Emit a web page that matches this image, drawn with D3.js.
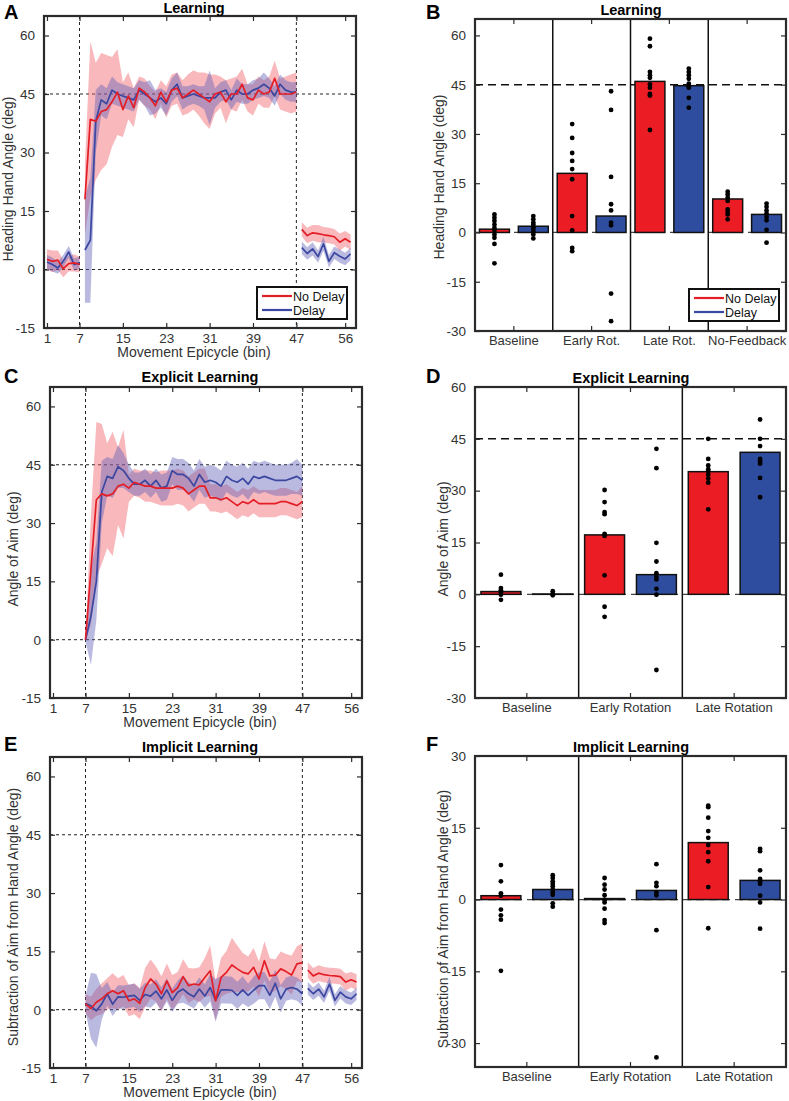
<!DOCTYPE html>
<html>
<head>
<meta charset="utf-8">
<script src="https://cdn.jsdelivr.net/npm/d3@7.9.0/dist/d3.min.js"></script>
<style>
  body { margin: 0; background: #fff; }
  svg { display: block; font-family: "Liberation Sans", Arial, Helvetica, sans-serif; }
</style>
</head>
<body>
<svg id="fig" width="789" height="1101"></svg>
<script>
// ---- bins (x categories) ----
const binsBase = [1, 2, 3, 4, 5, 6, 7];
const binsRot = [8, 9, 10, 11, 12, 13, 14, 15, 16, 17, 18, 19, 20, 21, 22, 23, 24, 25, 26, 27,
  28, 29, 30, 31, 32, 33, 34, 35, 36, 37, 38, 39, 40, 41, 42, 43, 44, 45, 46, 47];
const binsRotAim = [7, 8, 9, 10, 11, 12, 13, 14, 15, 16, 17, 18, 19, 20, 21, 22, 23, 24, 25, 26, 27,
  28, 29, 30, 31, 32, 33, 34, 35, 36, 37, 38, 39, 40, 41, 42, 43, 44, 45, 46, 47];
const binsNoFb = [48, 49, 50, 51, 52, 53, 54, 55, 56, 57];
const lineXTicks = [1, 7, 15, 23, 31, 39, 47, 56];
const lineYTicks = [-15, 0, 15, 30, 45, 60];

// ---- A: heading hand angle (mean, SE) ----
const handBaseND = [2.6, 2.1, 2.4, 0.2, 1.5, 1.7, 1.3];
const handBaseNDse = [2.6, 2.8, 2.5, 2.2, 2, 2.2, 2];
const handBaseD = [1.9, 1.3, 0.4, 2.1, 4.5, 1.3, 1.7];
const handBaseDse = [1.8, 1.8, 1.5, 1.6, 1.5, 1.6, 1.5];
const handRotND = [18, 38.5, 38, 40.5, 41, 43, 45.5, 41, 44.5, 41.5, 46.5, 45.5, 44, 42, 45.5, 43, 46, 46.5, 44, 45,
  46, 45, 44, 43, 45, 45.5, 43, 45, 45, 47.5, 44, 43.5, 46, 45, 45.5, 49, 45, 45, 45, 45.5];
const handRotNDse = [9, 20, 15, 15, 14, 11.5, 11, 7, 6, 5, 3, 3.5, 3, 3.5, 3, 4, 4, 4, 4.5, 5,
  5, 5.5, 6.5, 7, 5, 4, 5.5, 4, 4.5, 4, 3.5, 4, 3.5, 3.5, 4, 4.5, 4, 4.5, 5, 5];
const handRotD = [5, 7.5, 38, 43.5, 42.5, 46, 45, 44.5, 44, 43.5, 46, 45, 44, 43, 44, 42.5, 46, 47.5, 44, 44.5,
  45, 44.5, 44, 44, 44, 45.5, 46, 43.5, 46, 45, 45, 46, 46.5, 47.5, 46.5, 44.5, 47.5, 46, 45.5, 45.5];
const handRotDse = [13.5, 16, 8, 4, 4, 3.5, 3, 3, 3, 3, 2.5, 3, 4.5, 3, 2.5, 3, 3, 3, 3, 2.5,
  2.5, 2.5, 3, 7, 2.5, 2.5, 2.5, 2.5, 3, 2.5, 2.5, 2.5, 2.5, 3, 2.5, 2.5, 2.5, 2.5, 2.5, 2.5];
const handNfND = [10.3, 8.7, 9.4, 9.2, 8.9, 8.7, 8.4, 7, 7.9, 7];
const handNfNDse = [1.8, 2, 2, 2.2, 2, 2, 2, 2.2, 2, 2];
const handNfD = [5.6, 4.1, 5.3, 3.3, 6.6, 2.1, 4.3, 3.4, 2.7, 4];
const handNfDse = [1.6, 1.6, 1.7, 1.6, 1.8, 1.6, 1.6, 1.7, 1.6, 1.6];

// ---- C: angle of aim ----
const aimRotND = [0, 18, 36, 37.5, 37, 37.5, 39.5, 40, 39, 40.5, 40, 39.5, 39.5, 39, 39, 39, 39, 39.5, 39, 37.5,
  38.5, 39.5, 39.5, 36.5, 36.5, 36, 36.5, 35.5, 34.5, 35.5, 35, 36, 35, 35, 35, 35, 35.5, 35.5, 35, 34.5, 35.5];
const aimRotNDse = [0.5, 14, 20, 18, 13.5, 16, 10, 14, 3.5, 3.5, 3.5, 4, 4, 4, 4.5, 4.5, 4.5, 4.5, 4.5, 4.5,
  4.5, 4.5, 4.5, 3.5, 3.5, 3.5, 3.5, 3.5, 3.5, 3.5, 3.5, 3.5, 3.5, 3.5, 3.5, 3.5, 3.5, 3.5, 3.5, 3.5, 4];
const aimRotD = [0, 6, 15, 38, 42, 41.5, 44.5, 43.5, 41.5, 40, 40, 41, 39.5, 41, 39, 39.5, 43.5, 42.5, 42.5, 41.5,
  39.5, 42.5, 40.5, 41, 40.5, 39.5, 42, 41, 40.5, 41.5, 40, 42, 41.5, 42, 41.5, 41, 41, 41, 41.5, 42, 41];
const aimRotDse = [0.5, 12.5, 10, 8, 5, 5, 5.5, 4.5, 3.5, 3, 3, 3, 3, 3, 3.5, 3.5, 3.5, 4, 4, 4,
  4, 4, 4, 4, 4, 4, 4, 4, 4, 4, 4, 4, 4, 4, 4, 4, 4, 4, 4, 4.5, 4];

// ---- E: implicit (hand minus aim) ----
const implRotND = [1.5, 0.3, 1.9, 2.8, 4.1, 4.9, 4.1, 4.9, 2.3, 2.8, 1.6, 5.7, 7.9, 6.6, 4.1, 7.4, 4.4, 5.7, 8.5, 6.2,
  6.6, 6.4, 8.3, 10, 2.3, 8.3, 9.6, 11.5, 10.5, 9.6, 9.2, 10.9, 7.9, 12.6, 8.7, 8.9, 10.5, 9.8, 8.9, 11.8, 12.1];
const implRotNDse = [2.5, 3, 3.5, 4, 4, 4.5, 4, 4, 4, 4, 4, 5, 5, 4.5, 4.5, 4.5, 4.5, 4, 4.5, 4.5,
  4, 4.5, 5, 6.5, 5, 5, 5.5, 7, 6, 5, 4.5, 5, 4.5, 5, 4.5, 4, 4.5, 4.5, 5, 4.5, 5];
const implRotD = [1.6, 1, -0.3, 1.5, 4.1, 1.4, 3.3, 3.2, 3.5, 3.7, 2.4, 3.9, 3.5, 4.8, 2.8, 5.1, 2.4, 4.5, 5.3, 4.1,
  3.3, 5.3, 3.5, 5.7, 2.4, 5.1, 5.1, 5, 3.7, 5.1, 3.7, 5, 6.2, 6.2, 3.7, 6.8, 2.8, 5.3, 5.7, 5.3, 4.1];
const implRotDse = [2, 8.5, 9.5, 4, 3, 3, 3, 3, 3, 3, 3, 3, 3, 3, 3, 3, 3, 3, 3.5, 3,
  3, 3, 3, 3.5, 5.5, 3.5, 3.5, 3.5, 3.5, 3.5, 3, 3.5, 3.5, 3.5, 3.5, 3.5, 3.5, 3, 3, 3, 3];
const implNfND = [10.2, 8.7, 9.4, 9, 8.8, 8.7, 8.5, 7.1, 7.7, 7.1];
const implNfNDse = [2, 2, 2, 2, 2, 2, 2, 2.2, 2, 2];
const implNfD = [5.5, 4.1, 5.3, 3.3, 6.6, 2.4, 4.5, 3.3, 2.8, 4.1];
const implNfDse = [1.6, 1.6, 1.7, 1.6, 1.8, 1.6, 1.6, 1.7, 1.6, 1.6];

// ---- B: learning bars ----
const learnGroups = ['Baseline', 'Early Rot.', 'Late Rot.', 'No-Feedback'];
const learnBarND = [1.0, 18, 46, 10.2];
const learnBarD = [1.9, 5, 44.7, 5.5];
const learnPtsND = [
  [5.5, 4.5, 3.5, 2.4, 1.4, 0.6, -0.6, -1.6, -3.5, -9.4],
  [33, 28.8, 24.2, 21.8, 19.3, 16.2, 5, 0.6, -4.7, -5.7],
  [59, 56.7, 48.9, 47.9, 47.1, 45.1, 44.1, 42.2, 41.7, 31.2],
  [12.4, 11.6, 10.6, 9.6, 7, 6.3, 5.5, 4]
];
const learnPtsD = [
  [5, 4, 3, 2.4, 1.6, 0.9, 0.2, -0.6, -1.8],
  [43, 37.3, 16.9, 8.6, 6.7, 3, 2.2, -18.6, -27],
  [49.9, 48.9, 47.9, 46.8, 45.3, 44.5, 44.1, 41, 38],
  [8.8, 7.8, 6.7, 5.7, 4.7, 3.7, 0.8, -3.1]
];
const learnYTicks = [-30, -15, 0, 15, 30, 45, 60];

// ---- D: explicit bars ----
const aimGroups = ['Baseline', 'Early Rotation', 'Late Rotation'];
const aimBarND = [0.8, 17.2, 35.5];
const aimBarD = [0.1, 5.7, 41.1];
const aimPtsND = [
  [5.7, 1.8, 1.2, 0.5, -0.1, -1.6],
  [30.2, 26.7, 23.8, 23.2, 17.5, 16.9, 5.5, -3.6, -6.5],
  [45, 39.2, 37.3, 36.2, 35.6, 34.6, 33.5, 32.3, 24.6]
];
const aimPtsD = [
  [0.9, 0.2, -0.3],
  [42.1, 36.5, 14.9, 9.5, 6.1, 5.1, 4.3, 1.6, -0.1, -21.9],
  [50.6, 45, 42.9, 39.2, 38.5, 37.8, 33.7, 28.1]
];
const aimYTicks = [-30, -15, 0, 15, 30, 45, 60];

// ---- F: implicit bars ----
const implGroups = ['Baseline', 'Early Rotation', 'Late Rotation'];
const implBarND = [0.8, 0.2, 11.9];
const implBarD = [2.1, 1.9, 4];
const implPtsND = [
  [7.2, 3.8, 1.3, 0.8, -2.1, -3.3, -4.2, -14.9],
  [4.5, 3.1, 2.1, 0.9, -0.1, -0.6, -1.9, -4.3, -4.9],
  [19.6, 19.3, 17.1, 14.3, 12.9, 11.4, 9.9, 8, 2.6, -6]
];
const implPtsD = [
  [5.1, 4.5, 3.8, 3.3, 2.8, 2.1, 1.5, 1, -0.8, -1.5],
  [7.4, 3.5, 2.8, 1.5, 0.9, -6.4, -33],
  [10.6, 10.1, 6.1, 4.3, 3.8, 3.3, 0.8, -0.6, -6.1]
];
const implYTicks = [-30, -15, 0, 15, 30];

const conditions = ['No Delay', 'Delay'];

// ---- styles ----
const FONT = '"Liberation Sans", Arial, Helvetica, sans-serif';
const INK = '#2b2b2b';
const RED_LINE = '#e41e26', BLUE_LINE = '#3b47a0';
const RED_BAND = '#ee5560', BLUE_BAND = '#5a5ab8';
const RED_BAR = '#ec1c24', BLUE_BAR = '#2f4d9f';

const svg = d3.select('#fig');

function styleAxis(sel) {
  sel.attr('font-family', FONT).attr('font-size', 13.5);
  sel.select('.domain').remove();
  sel.selectAll('.tick line').attr('stroke', INK).attr('stroke-width', 1.2);
  sel.selectAll('.tick text').attr('fill', '#333');
}

function frameAxes(g, x, y, b, xTicks, yTicks) {
  const fmt = d => String(d);
  const bottom = d3.axisBottom(x).tickSize(-5).tickPadding(5);
  const top = d3.axisTop(x).tickSize(-5).tickFormat('');
  if (xTicks) { bottom.tickValues(xTicks).tickFormat(fmt); top.tickValues(xTicks); }
  g.append('g').attr('transform', `translate(0,${b.y1})`).call(bottom).call(styleAxis)
    .selectAll('.tick text').attr('font-size', xTicks ? 13.5 : 13);
  g.append('g').attr('transform', `translate(0,${b.y0})`).call(top).call(styleAxis);
  g.append('g').attr('transform', `translate(${b.x0},0)`)
    .call(d3.axisLeft(y).tickValues(yTicks).tickFormat(fmt).tickSize(-5).tickPadding(9)).call(styleAxis);
  g.append('g').attr('transform', `translate(${b.x1},0)`)
    .call(d3.axisRight(y).tickValues(yTicks).tickSize(-5).tickFormat('')).call(styleAxis);
  g.append('rect')
    .attr('x', b.x0).attr('y', b.y0).attr('width', b.x1 - b.x0).attr('height', b.y1 - b.y0)
    .attr('fill', 'none').attr('stroke', INK).attr('stroke-width', 2.2);
}

function labels(g, o) {
  g.append('text').attr('x', o.titleX).attr('y', o.titleY).attr('text-anchor', 'middle')
    .attr('font-weight', 'bold').attr('font-size', 14.5).attr('fill', '#000').text(o.title);
  g.append('text').attr('x', o.letterX).attr('y', o.letterY)
    .attr('font-weight', 'bold').attr('font-size', 20).attr('fill', '#000').text(o.letter);
  g.append('text').attr('transform', `translate(${o.ylabelX},${o.ylabelY}) rotate(-90)`)
    .attr('text-anchor', 'middle').attr('font-size', 14).attr('fill', '#333').text(o.ylabel);
  if (o.xlabel) {
    g.append('text').attr('x', o.xlabelX).attr('y', o.xlabelY).attr('text-anchor', 'middle')
      .attr('font-size', 14).attr('fill', '#333').text(o.xlabel);
  }
}

function legend(g, lx, ly) {
  const box = g.append('g').attr('transform', `translate(${lx},${ly})`);
  box.append('rect').attr('width', 90).attr('height', 32)
    .attr('fill', '#fff').attr('stroke', '#111').attr('stroke-width', 2);
  [[conditions[0], RED_LINE], [conditions[1], BLUE_LINE]].forEach(([name, c], i) => {
    const yy = 9 + i * 14;
    box.append('line').attr('x1', 5).attr('x2', 35).attr('y1', yy).attr('y2', yy)
      .attr('stroke', c).attr('stroke-width', 2.2);
    box.append('text').attr('x', 36).attr('y', yy + 4.5).attr('font-size', 12.5).attr('fill', '#111').text(name);
  });
}

function rows(bins, m, se) {
  return bins.map((bin, i) => ({ bin, m: m[i], se: se[i] }));
}

function linePanel(o) {
  const b = o.box;
  const g = svg.append('g');
  const x = d3.scaleLinear().domain([0.45, 58]).range([b.x0, b.x1]);
  const y = d3.scaleLinear().domain([-15, 65]).range([b.y1, b.y0]);
  const clipId = 'clip' + o.letter;
  svg.append('clipPath').attr('id', clipId).append('rect')
    .attr('x', b.x0).attr('y', b.y0).attr('width', b.x1 - b.x0).attr('height', b.y1 - b.y0);
  const plot = g.append('g').attr('clip-path', `url(#${clipId})`);

  [0, 45].forEach(v => plot.append('line')
    .attr('x1', b.x0).attr('x2', b.x1).attr('y1', y(v)).attr('y2', y(v))
    .attr('stroke', '#222').attr('stroke-width', 1).attr('stroke-dasharray', '3,3'));
  [7, 47].forEach(v => plot.append('line')
    .attr('x1', x(v)).attr('x2', x(v)).attr('y1', b.y0).attr('y2', b.y1)
    .attr('stroke', '#222').attr('stroke-width', 1).attr('stroke-dasharray', '3,3'));

  const area = d3.area().x(d => x(d.bin)).y0(d => y(d.m - d.se)).y1(d => y(d.m + d.se));
  const line = d3.line().x(d => x(d.bin)).y(d => y(d.m));

  o.series.forEach(s => s.segs.forEach(seg => plot.append('path').datum(seg)
    .attr('d', area).attr('fill', s.band).attr('fill-opacity', 0.42)));
  o.series.slice().reverse().forEach(s => s.segs.forEach(seg => plot.append('path').datum(seg)
    .attr('d', line).attr('fill', 'none').attr('stroke', s.color).attr('stroke-width', 1.7)
    .attr('stroke-linejoin', 'round')));

  frameAxes(g, x, y, b, lineXTicks, lineYTicks);
  labels(g, o);
  if (o.legend) legend(g, o.legend[0], o.legend[1]);
}

function barPanel(o) {
  const b = o.box;
  const g = svg.append('g');
  const x = d3.scaleBand().domain(o.groups).range([b.x0, b.x1]).padding(0);
  const xc = d3.scaleBand().domain(conditions).range([0, x.bandwidth()])
    .paddingInner(0.23).paddingOuter(0.115);
  const y = d3.scaleLinear().domain(o.yDomain).range([b.y1, b.y0]);

  const refs = o.yDomain[1] > 45 ? [45] : [];
  refs.forEach(v => g.append('line')
    .attr('x1', b.x0).attr('x2', b.x1).attr('y1', y(v)).attr('y2', y(v))
    .attr('stroke', '#111').attr('stroke-width', 1.5).attr('stroke-dasharray', '8,5'));
  g.append('line').attr('x1', b.x0).attr('x2', b.x1).attr('y1', y(0)).attr('y2', y(0))
    .attr('stroke', '#444').attr('stroke-width', 1.2).attr('stroke-dasharray', '8,5');

  const series = [
    { c: conditions[0], bars: o.barND, pts: o.ptsND, fill: RED_BAR },
    { c: conditions[1], bars: o.barD, pts: o.ptsD, fill: BLUE_BAR }
  ];
  series.forEach(s => {
    g.selectAll(null).data(o.groups.map((grp, i) => ({ grp, v: s.bars[i] })))
      .join('rect')
      .attr('x', d => x(d.grp) + xc(s.c))
      .attr('width', xc.bandwidth())
      .attr('y', d => y(Math.max(0, d.v)))
      .attr('height', d => Math.abs(y(d.v) - y(0)))
      .attr('fill', s.fill).attr('stroke', '#111').attr('stroke-width', 1.5);
  });
  series.forEach(s => {
    const pts = o.groups.flatMap((grp, i) => s.pts[i].map(v => ({ grp, v })));
    g.selectAll(null).data(pts).join('circle')
      .attr('cx', d => x(d.grp) + xc(s.c) + xc.bandwidth() / 2)
      .attr('cy', d => y(d.v))
      .attr('r', 2.4).attr('fill', '#000');
  });
  o.groups.slice(1).forEach(grp => g.append('line')
    .attr('x1', x(grp)).attr('x2', x(grp)).attr('y1', b.y0).attr('y2', b.y1)
    .attr('stroke', '#111').attr('stroke-width', 1.5));

  frameAxes(g, x, y, b, null, o.yTicks);
  labels(g, o);
  if (o.legend) legend(g, o.legend[0], o.legend[1]);
}

// ---- panels ----
linePanel({
  letter: 'A', title: 'Learning', ylabel: 'Heading Hand Angle (deg)', xlabel: 'Movement Epicycle (bin)',
  box: { x0: 44, x1: 356, y0: 16, y1: 328 },
  titleX: 194, titleY: 13, letterX: 4, letterY: 19, ylabelX: 13, ylabelY: 179, xlabelX: 194, xlabelY: 357,
  legend: [257, 287],
  series: [
    { color: RED_LINE, band: RED_BAND, segs: [rows(binsBase, handBaseND, handBaseNDse), rows(binsRot, handRotND, handRotNDse), rows(binsNoFb, handNfND, handNfNDse)] },
    { color: BLUE_LINE, band: BLUE_BAND, segs: [rows(binsBase, handBaseD, handBaseDse), rows(binsRot, handRotD, handRotDse), rows(binsNoFb, handNfD, handNfDse)] }
  ]
});

barPanel({
  letter: 'B', title: 'Learning', ylabel: 'Heading Hand Angle (deg)',
  box: { x0: 475, x1: 786, y0: 19, y1: 331 },
  titleX: 631, titleY: 15, letterX: 426, letterY: 19, ylabelX: 444, ylabelY: 177,
  groups: learnGroups, yDomain: [-30, 65], yTicks: learnYTicks,
  barND: learnBarND, barD: learnBarD, ptsND: learnPtsND, ptsD: learnPtsD,
  legend: [689, 289]
});

linePanel({
  letter: 'C', title: 'Explicit Learning', ylabel: 'Angle of Aim (deg)', xlabel: 'Movement Epicycle (bin)',
  box: { x0: 50, x1: 362, y0: 387, y1: 698 },
  titleX: 200, titleY: 382, letterX: 4, letterY: 383, ylabelX: 18, ylabelY: 549, xlabelX: 200, xlabelY: 727,
  series: [
    { color: RED_LINE, band: RED_BAND, segs: [rows(binsRotAim, aimRotND, aimRotNDse)] },
    { color: BLUE_LINE, band: BLUE_BAND, segs: [rows(binsRotAim, aimRotD, aimRotDse)] }
  ]
});

barPanel({
  letter: 'D', title: 'Explicit Learning', ylabel: 'Angle of Aim (deg)',
  box: { x0: 475, x1: 786, y0: 387, y1: 698 },
  titleX: 631, titleY: 383, letterX: 426, letterY: 383, ylabelX: 448, ylabelY: 539,
  groups: aimGroups, yDomain: [-30, 60], yTicks: aimYTicks,
  barND: aimBarND, barD: aimBarD, ptsND: aimPtsND, ptsD: aimPtsD
});

linePanel({
  letter: 'E', title: 'Implicit Learning', ylabel: 'Subtraction of Aim from Hand Angle (deg)', xlabel: 'Movement Epicycle (bin)',
  box: { x0: 50, x1: 362, y0: 757, y1: 1068 },
  titleX: 200, titleY: 752, letterX: 4, letterY: 751, ylabelX: 18, ylabelY: 917, xlabelX: 200, xlabelY: 1097,
  series: [
    { color: RED_LINE, band: RED_BAND, segs: [rows(binsRotAim, implRotND, implRotNDse), rows(binsNoFb, implNfND, implNfNDse)] },
    { color: BLUE_LINE, band: BLUE_BAND, segs: [rows(binsRotAim, implRotD, implRotDse), rows(binsNoFb, implNfD, implNfDse)] }
  ]
});

barPanel({
  letter: 'F', title: 'Implicit Learning', ylabel: 'Subtraction of Aim from Hand Angle (deg)',
  box: { x0: 475, x1: 786, y0: 756, y1: 1067 },
  titleX: 631, titleY: 752, letterX: 426, letterY: 751, ylabelX: 448, ylabelY: 919,
  groups: implGroups, yDomain: [-35, 30], yTicks: implYTicks,
  barND: implBarND, barD: implBarD, ptsND: implPtsND, ptsD: implPtsD
});
</script>
</body>
</html>
